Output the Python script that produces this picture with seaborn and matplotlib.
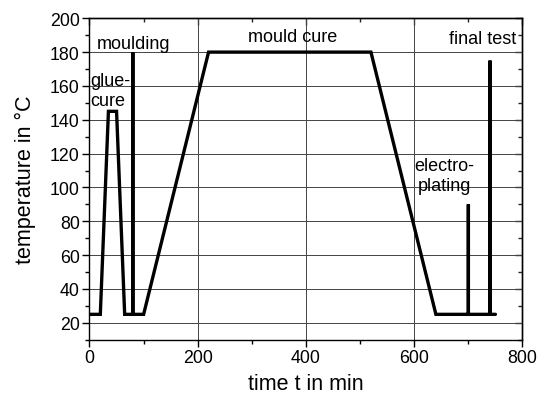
import matplotlib
matplotlib.use("Agg")
import matplotlib.pyplot as plt
from matplotlib.ticker import MultipleLocator
import seaborn as sns
import pandas as pd

# data
time_min = [0, 20, 35, 50, 65, 80, 80, 80, 100, 220, 520, 640, 700, 700, 700, 740, 740, 740, 750]
temp_c = [25, 25, 145, 145, 25, 25, 180, 25, 25, 180, 180, 25, 25, 90, 25, 25, 175, 25, 25]
x_ticks = [0, 200, 400, 600, 800]
y_ticks = [20, 40, 60, 80, 100, 120, 140, 160, 180, 200]
labels = ["moulding", "glue-\ncure", "mould cure", "electro-\nplating", "final test"]
label_x = [14, 1, 376, 656, 788]
label_y = [185, 157.5, 189, 107, 188]
label_ha = ["left", "left", "center", "center", "right"]

sns.set_theme(style="ticks")
plt.rcParams["font.family"] = ["Liberation Sans", "DejaVu Sans"]

df = pd.DataFrame({"t": time_min, "T": temp_c, "o": range(len(time_min))})

fig = plt.figure(figsize=(5.47, 4.06), dpi=100)
ax = fig.add_axes([0.1636, 0.1608, 0.7916, 0.7917])

sns.lineplot(data=df, x="t", y="T", sort=False, estimator=None, color="black",
             linewidth=2.4, ax=ax, solid_joinstyle="miter")

ax.set_xlim(0, 800)
ax.set_ylim(10, 200)
ax.set_xticks(x_ticks)
ax.set_yticks(y_ticks)
ax.xaxis.set_minor_locator(MultipleLocator(100))
ax.yaxis.set_minor_locator(MultipleLocator(10))
ax.grid(True, which="major", color="#444444", linewidth=0.7)
ax.set_axisbelow(True)

for s in ax.spines.values():
    s.set_visible(True)
    s.set_color("black")
    s.set_linewidth(1.0)

ax.tick_params(axis="both", which="major", direction="out", length=5, width=1,
               labelsize=12.8, color="black", labelcolor="black", pad=2)
ax.tick_params(axis="both", which="minor", direction="out", length=3, width=1, color="black")

sec_y = ax.secondary_yaxis("right")
sec_y.set_yticks(y_ticks)
sec_y.yaxis.set_minor_locator(MultipleLocator(10))
sec_y.tick_params(which="major", direction="in", length=5, width=1, labelright=False)
sec_y.tick_params(which="minor", direction="in", length=3, width=1)
sec_y.spines["right"].set_linewidth(1.0)

sec_x = ax.secondary_xaxis("top")
sec_x.set_xticks(x_ticks)
sec_x.xaxis.set_minor_locator(MultipleLocator(100))
sec_x.tick_params(which="major", direction="in", length=5, width=1, labeltop=False)
sec_x.tick_params(which="minor", direction="in", length=3, width=1)
sec_x.spines["top"].set_linewidth(1.0)

ax.set_xlabel("time t in min", fontsize=15.5, labelpad=5, color="black")
ax.set_ylabel("temperature in \u00b0C", fontsize=15.5, labelpad=10, color="black")

for txt, lx, ly, ha in zip(labels, label_x, label_y, label_ha):
    ax.text(lx, ly, txt, fontsize=13, ha=ha, va="center", color="black", linespacing=1.25)

fig.savefig("out.png", dpi=100)
